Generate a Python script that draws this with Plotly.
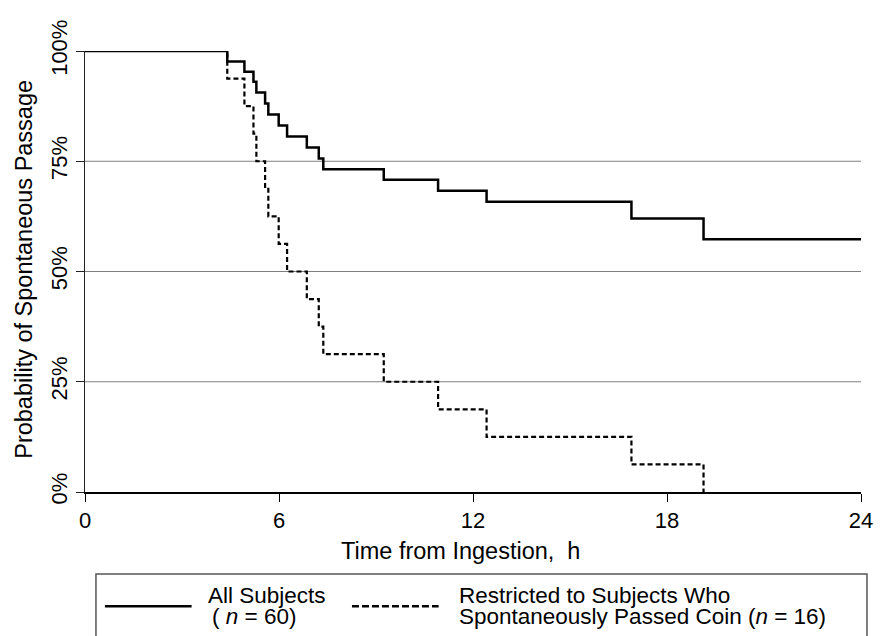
import plotly.graph_objects as go

# ---- data ----
event_times = [0, 4.40, 4.93, 5.21, 5.30, 5.57, 5.67, 5.99, 6.25, 6.86, 7.23, 7.37,
               9.24, 10.92, 12.42, 16.90, 19.13]
all_subjects = [100, 97.6, 95.3, 93.0, 90.6, 88.1, 85.6, 83.1, 80.6, 78.1, 75.6, 73.2,
                70.8, 68.3, 65.8, 62.0, 57.3]
passed_coin = [100, 93.75, 87.5, 81.25, 75, 68.75, 62.5, 56.25, 50, 43.75, 37.5, 31.25,
               25, 18.75, 12.5, 6.25, 0]
follow_up_end = 24
x_ticks = [0, 6, 12, 18, 24]
y_ticks = [0, 25, 50, 75, 100]
grid_levels = [25, 50, 75]

# page body has an 8px margin: build the figure so it lands on the reference pixels
OFF = 8
W, H = 885 - OFF, 636 - OFF
PLOT_X0, PLOT_X1, PLOT_Y0, PLOT_Y1 = 85, 864, 40, 492  # reference pixels
L, T = PLOT_X0 - OFF, PLOT_Y0 - OFF
R = W - (PLOT_X1 - OFF)
B = H - (PLOT_Y1 - OFF)
PW, PH = PLOT_X1 - PLOT_X0, PLOT_Y1 - PLOT_Y0


def px(xp):
    return (xp - PLOT_X0) / PW


def py(yp):
    return (PLOT_Y1 - yp) / PH


FONT = "Liberation Sans, Arial, Helvetica, sans-serif"

fig = go.Figure()

fig.add_trace(go.Scatter(
    x=event_times + [follow_up_end], y=all_subjects + [all_subjects[-1]],
    mode="lines", line=dict(shape="hv", color="black", width=2.5),
    cliponaxis=False, showlegend=False, name="All Subjects"))

fig.add_trace(go.Scatter(
    x=event_times, y=passed_coin,
    mode="lines", line=dict(shape="hv", color="black", width=2.2, dash="5px,3px"),
    cliponaxis=False, showlegend=False, name="Restricted"))

shapes = []
for g in grid_levels:
    shapes.append(dict(type="line", xref="paper", yref="y", x0=0, x1=1, y0=g, y1=g,
                       line=dict(color="#7f7f7f", width=1.2), layer="below"))

# legend box and samples
shapes.append(dict(type="rect", xref="paper", yref="paper",
                   x0=px(96), x1=px(870), y0=py(576), y1=py(660),
                   line=dict(color="#555555", width=1.5)))
shapes.append(dict(type="line", xref="paper", yref="paper",
                   x0=px(105), x1=px(192), y0=py(609), y1=py(609),
                   line=dict(color="black", width=2.5)))
shapes.append(dict(type="line", xref="paper", yref="paper",
                   x0=px(353), x1=px(440), y0=py(609), y1=py(609),
                   line=dict(color="black", width=2.5, dash="7px,3px")))

annotations = [
    dict(text="Time from Ingestion,\u00a0 h", xref="paper", yref="paper",
         x=px(462), y=py(552), xanchor="center", yanchor="middle", showarrow=False,
         font=dict(size=23.5, color="black", family=FONT)),
    dict(text="Probability of Spontaneous Passage", xref="paper", yref="paper",
         x=px(23), y=py(264), xanchor="center", yanchor="middle", showarrow=False,
         textangle=-90, font=dict(size=23.5, color="black", family=FONT)),
    dict(text="All Subjects", xref="paper", yref="paper",
         x=px(206), y=py(598), xanchor="left", yanchor="middle", showarrow=False,
         font=dict(size=22.5, color="black", family=FONT)),
    dict(text="(\u00a0<i>n</i> = 60)", xref="paper", yref="paper",
         x=px(210), y=py(620), xanchor="left", yanchor="middle", showarrow=False,
         font=dict(size=22.5, color="black", family=FONT)),
    dict(text="Restricted to Subjects Who", xref="paper", yref="paper",
         x=px(458), y=py(598), xanchor="left", yanchor="middle", showarrow=False,
         font=dict(size=22.5, color="black", family=FONT)),
    dict(text="Spontaneously Passed Coin (<i>n</i> = 16)", xref="paper", yref="paper",
         x=px(458), y=py(620), xanchor="left", yanchor="middle", showarrow=False,
         font=dict(size=22.5, color="black", family=FONT)),
]

fig.update_layout(
    width=W, height=H, margin=dict(l=L, r=R, t=T, b=B, pad=0),
    paper_bgcolor="white", plot_bgcolor="white",
    font=dict(family=FONT, size=22, color="black"),
    shapes=shapes, annotations=annotations, showlegend=False,
    xaxis=dict(range=[0, 24], tickvals=x_ticks, ticktext=[str(v) for v in x_ticks],
               showgrid=False, zeroline=False, showline=True, linecolor="black",
               linewidth=1.5, ticks="outside", ticklen=8, tickcolor="black",
               tickwidth=1, tickfont=dict(size=22)),
    yaxis=dict(range=[0, 100], tickvals=y_ticks, ticktext=[f"{v}%" for v in y_ticks],
               tickangle=-90, showgrid=False, zeroline=False, showline=True,
               linecolor="#222222", linewidth=1, ticks="outside", ticklen=8,
               tickcolor="#222222", tickwidth=1, tickfont=dict(size=22)),
)

fig.write_html("out.html")
